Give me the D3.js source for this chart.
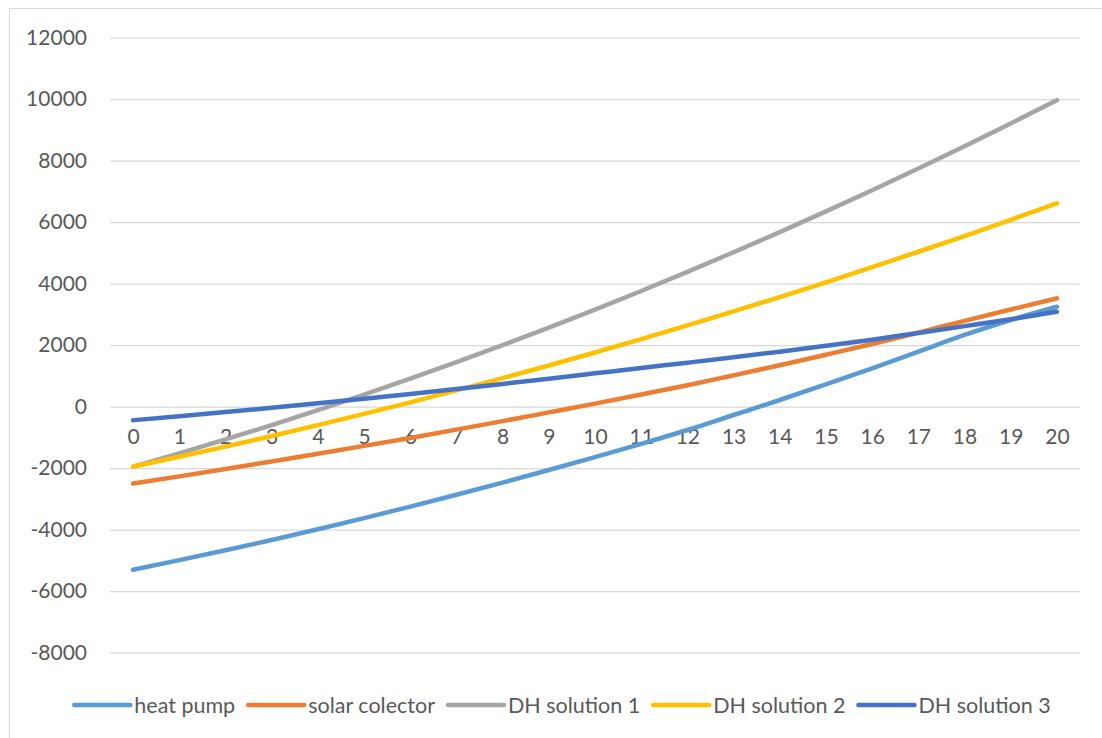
<!DOCTYPE html>
<html>
<head>
<meta charset="utf-8">
<script src="https://cdn.jsdelivr.net/npm/d3@7"></script>
<style>
  html, body { margin: 0; padding: 0; background: #ffffff; }
  svg { display: block; }
  text { font-family: Lato, "Open Sans", "Liberation Sans", sans-serif; fill: #595959; }
</style>
</head>
<body>
<svg id="chart" width="1102" height="738"></svg>
<script>
// ---- data ----
const categories = ["0","1","2","3","4","5","6","7","8","9","10","11","12","13","14","15","16","17","18","19","20"];
const seriesNames = ["heat pump", "solar colector", "DH solution 1", "DH solution 2", "DH solution 3"];
const heatPump     = [-5300,-4990,-4670,-4335,-3985,-3625,-3250,-2865,-2470,-2060,-1640,-1210,-758,-270,218,728,1248,1790,2332,2820,3252];
const solarColector= [-2500,-2265,-2025,-1780,-1530,-1275,-1015,-745,-470,-185,100,395,700,1020,1350,1690,2040,2410,2790,3160,3525];
const dhSolution1  = [-1950,-1516,-1065,-596,-112,391,911,1446,2000,2570,3158,3763,4384,5023,5678,6351,7041,7747,8471,9212,9970];
const dhSolution2  = [-1950,-1630,-1298,-955,-601,-235,141,530,930,1341,1763,2197,2642,3098,3566,4046,4536,5039,5551,6076,6612];
const dhSolution3  = [-440,-310,-175,-35,110,260,415,575,740,910,1085,1260,1430,1605,1790,1980,2180,2400,2620,2845,3090];
const yTicks = [-8000,-6000,-4000,-2000,0,2000,4000,6000,8000,10000,12000];
const colors = ["#5b9bd5","#ed7d31","#a5a5a5","#ffc000","#4472c4"];

const seriesValues = [heatPump, solarColector, dhSolution1, dhSolution2, dhSolution3];
const series = seriesNames.map((n, i) => ({ name: n, color: colors[i], values: seriesValues[i] }));

// ---- layout ----
const svg = d3.select("#chart");
const plotLeft = 110, plotRight = 1080, plotTop = 37.7, plotBottom = 652.7;

// outer chart border
svg.append("rect")
  .attr("x", 9.5).attr("y", 8.5)
  .attr("width", 1110).attr("height", 760)
  .attr("fill", "none").attr("stroke", "#d9d9d9").attr("stroke-width", 1);

const x = d3.scalePoint().domain(categories).range([plotLeft, plotRight]).padding(0.5);
const y = d3.scaleLinear().domain([-8000, 12000]).range([plotBottom, plotTop]);

// gridlines
const grid = svg.append("g")
  .attr("transform", `translate(${plotLeft},0)`)
  .call(d3.axisLeft(y).tickValues(yTicks).tickSize(-(plotRight - plotLeft)).tickFormat(""));
grid.select(".domain").remove();
grid.selectAll("line").attr("stroke", "#d9d9d9").attr("stroke-width", 1.3);

// y tick labels
const yAxis = svg.append("g")
  .attr("transform", `translate(${plotLeft - 23},0)`)
  .call(d3.axisLeft(y).tickValues(yTicks).tickSize(0).tickPadding(0).tickFormat(d => String(d)));
yAxis.select(".domain").remove();
yAxis.selectAll("text")
  .attr("font-size", 21)
  .attr("font-family", "Lato, 'Open Sans', sans-serif")
  .attr("fill", "#595959");

// x tick labels (at the zero line)
const xAxis = svg.append("g")
  .attr("transform", `translate(0,${y(0)})`)
  .call(d3.axisBottom(x).tickSize(0).tickPadding(22));
xAxis.select(".domain").remove();
xAxis.selectAll("text")
  .attr("font-size", 21)
  .attr("font-family", "Lato, 'Open Sans', sans-serif")
  .attr("fill", "#595959");

// lines
const line = d3.line()
  .x((d, i) => x(categories[i]))
  .y(d => y(d))
  .curve(d3.curveMonotoneX);

svg.append("g").selectAll("path")
  .data(series)
  .join("path")
  .attr("d", s => line(s.values))
  .attr("fill", "none")
  .attr("stroke", s => s.color)
  .attr("stroke-width", 4.5)
  .attr("stroke-linecap", "round")
  .attr("stroke-linejoin", "round");

// legend
const legendY = 705, lineLen = 56, lineGap = 4, itemGap = 13, legendCenter = 562.5;
const legend = svg.append("g");
const items = legend.selectAll("g").data(series).join("g");
items.append("line")
  .attr("x1", 0).attr("x2", lineLen)
  .attr("y1", legendY).attr("y2", legendY)
  .attr("stroke", s => s.color).attr("stroke-width", 4.5).attr("stroke-linecap", "round");
items.append("text")
  .attr("x", lineLen + lineGap)
  .attr("y", legendY)
  .attr("dy", "0.35em")
  .attr("font-size", 21.5)
  .text(s => s.name);
const widths = [];
items.each(function () {
  widths.push(lineLen + lineGap + d3.select(this).select("text").node().getComputedTextLength());
});
const total = d3.sum(widths) + itemGap * (widths.length - 1);
let cx = legendCenter - total / 2;
items.attr("transform", (d, i) => {
  const t = `translate(${cx},0)`;
  cx += widths[i] + itemGap;
  return t;
});
</script>
</body>
</html>
